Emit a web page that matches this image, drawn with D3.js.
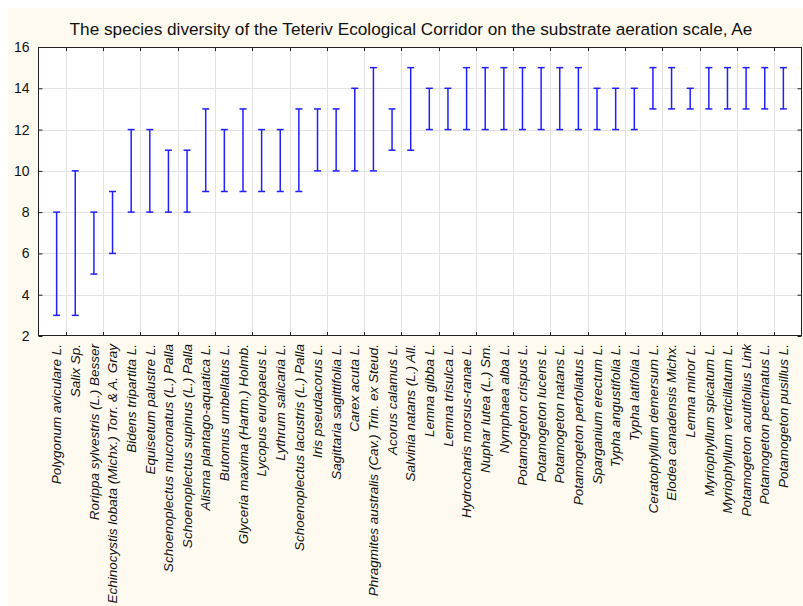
<!DOCTYPE html>
<html>
<head>
<meta charset="utf-8">
<script src="https://cdn.jsdelivr.net/npm/d3@7"></script>
<style>
  html, body { margin: 0; padding: 0; background: #ffffff; }
  svg { display: block; }
  text { font-family: "Liberation Sans", Arial, sans-serif; fill: #111; }
</style>
</head>
<body>
<svg id="chart" width="803" height="606"></svg>
<script>
const title = "The species diversity of the Teteriv Ecological Corridor on the substrate aeration scale, Ae";

const species = [
  "Polygonum aviculare L.", "Salix Sp.", "Rorippa sylvestris (L.) Besser",
  "Echinocystis lobata (Michx.) Torr. & A. Gray", "Bidens tripartita L.",
  "Equisetum palustre L.", "Schoenoplectus mucronatus (L.) Palla",
  "Schoenoplectus supinus (L.) Palla", "Alisma plantago-aquatica L.",
  "Butomus umbellatus L.", "Glyceria maxima (Hartm.) Holmb.", "Lycopus europaeus L.",
  "Lythrum salicaria L.", "Schoenoplectus lacustris (L.) Palla", "Iris pseudacorus L.",
  "Sagittaria sagittifolia L.", "Carex acuta L.",
  "Phragmites australis (Cav.) Trin. ex Steud.", "Acorus calamus L.",
  "Salvinia natans (L.) All.", "Lemna gibba L.", "Lemna trisulca L.",
  "Hydrocharis morsus-ranae L.", "Nuphar lutea (L.) Sm.", "Nymphaea alba L.",
  "Potamogeton crispus L.", "Potamogeton lucens L.", "Potamogeton natans L.",
  "Potamogeton perfoliatus L.", "Sparganium erectum L.", "Typha angustifolia L.",
  "Typha latifolia L.", "Ceratophyllum demersum L.", "Elodea canadensis Michx.",
  "Lemna minor L.", "Myriophyllum spicatum L.", "Myriophyllum verticillatum L.",
  "Potamogeton acutifolius Link", "Potamogeton pectinatus L.", "Potamogeton pusillus L."
];

// Lower and upper bounds of each species' range on the Ae scale
const rangeLow = [3, 3, 5, 6, 8, 8, 8, 8, 9, 9, 9, 9, 9, 9, 10, 10, 10, 10, 11, 11,
                  12, 12, 12, 12, 12, 12, 12, 12, 12, 12, 12, 12, 13, 13, 13, 13, 13, 13, 13, 13];
const rangeHigh = [8, 10, 8, 9, 12, 12, 11, 11, 13, 12, 13, 12, 12, 13, 13, 13, 14, 15, 13, 15,
                   14, 14, 15, 15, 15, 15, 15, 15, 15, 14, 14, 14, 15, 15, 14, 15, 15, 15, 15, 15];

const yTicks = [2, 4, 6, 8, 10, 12, 14, 16];

const svg = d3.select("#chart");
const W = 803, H = 606;
const plot = { left: 38, right: 802, top: 47, bottom: 336 };

// Cream page background with a thin white margin at top/left
svg.append("rect").attr("x", 8).attr("y", 8).attr("width", W - 8).attr("height", H - 8)
  .attr("fill", "#fefaf0");

svg.append("text")
  .attr("x", 411).attr("y", 35)
  .attr("text-anchor", "middle")
  .attr("font-size", 17.2)
  .text(title);

const x = d3.scalePoint().domain(species).range([plot.left, plot.right]).padding(1);
const y = d3.scaleLinear().domain([2, 16]).range([plot.bottom, plot.top]);

// Plot area
svg.append("rect")
  .attr("x", plot.left).attr("y", plot.top)
  .attr("width", plot.right - plot.left).attr("height", plot.bottom - plot.top)
  .attr("fill", "#ffffff");

// Vertical grid positions sit between every other pair of categories
const step = x.step();
const gridX = d3.range(20).map(k => plot.left + (2 * k + 1.5) * step);

const grid = svg.append("g").attr("stroke", "#e3e3e3").attr("stroke-width", 1);
grid.selectAll("line.h").data(yTicks.slice(1, -1)).join("line")
  .attr("x1", plot.left).attr("x2", plot.right)
  .attr("y1", d => Math.round(y(d)) + 0.5).attr("y2", d => Math.round(y(d)) + 0.5);
grid.selectAll("line.v").data(gridX).join("line")
  .attr("y1", plot.top).attr("y2", plot.bottom)
  .attr("x1", d => Math.round(d) + 0.5).attr("x2", d => Math.round(d) + 0.5);

// Axes: ticks pointing into the plot
const axisY = d3.axisLeft(y).tickValues(yTicks).tickSize(-4).tickPadding(9).tickFormat(d3.format("d"));
const gy = svg.append("g").attr("transform", `translate(${plot.left + 0.5},0)`).call(axisY);
gy.select(".domain").remove();
gy.selectAll("text").attr("font-size", 14).attr("font-family", '"Liberation Sans", Arial, sans-serif').attr("fill", "#111");
gy.selectAll("line").attr("stroke", "#222");

const gyR = svg.append("g").attr("transform", `translate(${plot.right - 0.5},0)`)
  .call(d3.axisRight(y).tickValues(yTicks).tickSize(-4).tickFormat(""));
gyR.select(".domain").remove();
gyR.selectAll("line").attr("stroke", "#222");

const ticksB = svg.append("g").attr("stroke", "#222");
ticksB.selectAll("line.b").data(gridX).join("line")
  .attr("x1", d => Math.round(d) + 0.5).attr("x2", d => Math.round(d) + 0.5)
  .attr("y1", plot.bottom).attr("y2", plot.bottom - 4);
ticksB.selectAll("line.t").data(gridX).join("line")
  .attr("x1", d => Math.round(d) + 0.5).attr("x2", d => Math.round(d) + 0.5)
  .attr("y1", plot.top).attr("y2", plot.top + 4);

// Frame
svg.append("rect")
  .attr("x", plot.left + 0.5).attr("y", plot.top + 0.5)
  .attr("width", plot.right - plot.left - 1).attr("height", plot.bottom - plot.top - 1)
  .attr("fill", "none").attr("stroke", "#222").attr("stroke-width", 1);

// Category labels, rotated
svg.append("g").selectAll("text").data(species).join("text")
  .attr("transform", d => `translate(${x(d) + 4.7},344) rotate(-90)`)
  .attr("text-anchor", "end")
  .attr("font-size", 13.5)
  .attr("font-style", "italic")
  .text(d => d);

// Range bars with caps
const bars = svg.append("g").attr("stroke", "#1f1fff").attr("stroke-width", 1.5);
const data = species.map((s, i) => ({ s, lo: rangeLow[i], hi: rangeHigh[i] }));
const capW = 3.5;
bars.selectAll("line.stem").data(data).join("line")
  .attr("x1", d => x(d.s)).attr("x2", d => x(d.s))
  .attr("y1", d => y(d.lo)).attr("y2", d => y(d.hi));
bars.selectAll("line.top").data(data).join("line")
  .attr("x1", d => x(d.s) - capW).attr("x2", d => x(d.s) + capW)
  .attr("y1", d => y(d.hi)).attr("y2", d => y(d.hi));
bars.selectAll("line.bot").data(data).join("line")
  .attr("x1", d => x(d.s) - capW).attr("x2", d => x(d.s) + capW)
  .attr("y1", d => y(d.lo)).attr("y2", d => y(d.lo));
</script>
</body>
</html>
